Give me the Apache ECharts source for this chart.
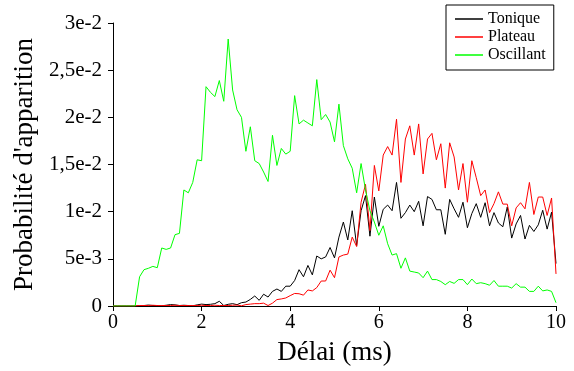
<!DOCTYPE html>
<html><head><meta charset="utf-8">
<script src="https://cdn.jsdelivr.net/npm/echarts@6/dist/echarts.min.js"></script>
<style>html,body{margin:0;padding:0;background:#fff}#c{width:574px;height:371px}</style>
</head><body><div id="c"></div>
<script>
// Délai (ms)
const delays = [
  0,0.1,0.2,0.3,0.4,0.5,0.6,0.7,0.8,0.9,
  1,1.1,1.2,1.3,1.4,1.5,1.6,1.7,1.8,1.9,
  2,2.1,2.2,2.3,2.4,2.5,2.6,2.7,2.8,2.9,
  3,3.1,3.2,3.3,3.4,3.5,3.6,3.7,3.8,3.9,
  4,4.1,4.2,4.3,4.4,4.5,4.6,4.7,4.8,4.9,
  5,5.1,5.2,5.3,5.4,5.5,5.6,5.7,5.8,5.9,
  6,6.1,6.2,6.3,6.4,6.5,6.6,6.7,6.8,6.9,
  7,7.1,7.2,7.3,7.4,7.5,7.6,7.7,7.8,7.9,
  8,8.1,8.2,8.3,8.4,8.5,8.6,8.7,8.8,8.9,
  9,9.1,9.2,9.3,9.4,9.5,9.6,9.7,9.8,9.9,
  10
];
// values in units of 1e-3
const UNIT = 1e-3;
const tonique = [
  0,0,0,0,0,0,0.02,0.05,0.1,0.05,
  0.05,0.02,0.08,0.15,0.12,0.05,0.08,0.05,0.02,0.12,
  0.2,0.15,0.18,0.25,0.5,0.05,0.18,0.25,0.14,0.35,
  0.42,0.7,1.06,0.6,1.25,0.95,1.55,1.8,1.55,2.1,
  2.1,2.7,3.85,3.1,4.3,3.3,5.3,5.0,5.2,6.2,
  5.1,7.3,8.9,7.0,10.1,6.4,10.1,11.7,7.4,11.55,
  8.45,10.25,10.7,10.1,13.1,9.3,9.9,10.7,10.0,11.1,
  8.5,11.6,11.3,10.2,10.2,7.6,11.3,10.3,9.4,11.0,
  8.3,9.8,10.85,9.4,10.95,8.5,9.9,8.8,8.4,10.5,
  7.2,8.7,9.6,7.1,8.55,7.9,8.6,10.15,8.15,9.95,
  4.5
];
const plateau = [
  0,0,0,0,0,0,0.05,0.05,0.05,0.08,
  0.05,0.05,0.05,0.05,0.08,0.05,0.05,0.05,0.05,0.05,
  0.08,0.05,0.05,0.08,0.05,0.05,0.05,0.08,0.1,0.02,
  0.15,0.2,0.25,0.25,0.3,0.05,0.3,0.68,0.75,0.85,
  1.1,1.33,1.3,1.15,1.7,1.6,1.95,2.65,2.65,3.8,
  3.0,5.2,5.4,5.5,7.3,6.3,11.0,12.9,8.0,14.9,
  12.2,16.0,16.9,16.0,19.8,13.1,17.7,19.1,16.0,19.3,
  14.0,17.7,18.3,15.5,17.2,12.5,17.3,15.8,12.3,15.1,
  11.0,15.4,13.6,11.7,12.3,9.9,10.85,12.1,10.8,10.8,
  8.5,10.4,10.95,10.3,13.1,9.7,11.55,11.55,9.6,11.45,
  3.4
];
const oscillant = [
  0,0,0,0,0,0,3.1,3.85,4.0,4.2,
  4.06,6.15,6.0,6.15,7.56,7.7,12.3,12.0,13.1,15.5,
  15.4,23.25,22.65,22.2,23.9,21.7,28.3,22.9,20.8,20.0,
  16.4,19.0,15.4,15.1,14.2,13.2,18.1,14.9,16.7,16.1,
  16.4,22.3,19.3,19.7,19.4,19.1,24.0,19.75,20.3,19.5,
  17.4,21.4,17.0,15.6,14.6,12.0,15.1,12.3,10.1,8.9,
  7.5,8.5,6.6,5.4,5.55,4.0,5.1,3.7,3.6,3.5,
  3.0,3.7,2.8,2.8,2.6,2.26,2.6,2.4,2.8,2.8,
  2.26,2.86,2.37,2.47,2.37,2.2,2.7,2.1,2.1,2.1,
  1.9,2.37,2.0,2.0,1.55,1.55,2.1,1.6,1.7,1.55,
  0.35
];
const seriesNames = ['Tonique', 'Plateau', 'Oscillant'];
const yTickLabels = ['0', '5e-3', '1e-2', '1,5e-2', '2e-2', '2,5e-2', '3e-2'];
const xTickLabels = ['0', '2', '4', '6', '8', '10'];

const FONT = "'Liberation Serif', 'Times New Roman', serif";
const pairs = arr => arr.map((v, i) => [delays[i], v * UNIT]);

const chart = echarts.init(document.getElementById('c'), null, {renderer: 'canvas'});
chart.setOption({
  animation: false,
  backgroundColor: '#fff',
  grid: {left: 113, right: 18, top: 23, bottom: 65},
  legend: {
    orient: 'vertical', left: 446, top: 5,
    data: seriesNames,
    icon: 'rect', itemWidth: 28, itemHeight: 1.5, itemGap: 2,
    textStyle: {fontFamily: FONT, fontSize: 16, color: '#000', lineHeight: 16},
    borderColor: '#000', borderWidth: 1, borderRadius: 0,
    padding: [6, 8, 7, 9], backgroundColor: '#fff'
  },
  xAxis: {
    type: 'value', min: 0, max: 10, interval: 2,
    name: 'Délai (ms)', nameLocation: 'middle', nameGap: 33,
    nameTextStyle: {fontFamily: FONT, fontSize: 27, color: '#000'},
    axisLine: {lineStyle: {color: '#000', width: 1}},
    axisTick: {show: true, length: 5, lineStyle: {color: '#000'}},
    axisLabel: {fontFamily: FONT, fontSize: 20, color: '#000', margin: 7,
      formatter: v => xTickLabels[Math.round(v / 2)]},
    splitLine: {show: false}
  },
  yAxis: {
    type: 'value', min: 0, max: 0.03, interval: 0.005,
    name: "Probabilité d'apparition", nameLocation: 'middle', nameGap: 70,
    nameTextStyle: {fontFamily: FONT, fontSize: 27, color: '#000'},
    axisLine: {show: true, lineStyle: {color: '#000', width: 1}},
    axisTick: {show: true, length: 5, lineStyle: {color: '#000'}},
    axisLabel: {fontFamily: FONT, fontSize: 21, color: '#000', margin: 11,
      formatter: v => yTickLabels[Math.round(v / 0.005)]},
    splitLine: {show: false}
  },
  series: [
    {name: 'Tonique', type: 'line', data: pairs(tonique), showSymbol: false, symbol: 'none',
     lineStyle: {color: '#000', width: 1}, itemStyle: {color: '#000'}},
    {name: 'Plateau', type: 'line', data: pairs(plateau), showSymbol: false, symbol: 'none',
     lineStyle: {color: '#ff0000', width: 1}, itemStyle: {color: '#ff0000'}},
    {name: 'Oscillant', type: 'line', data: pairs(oscillant), showSymbol: false, symbol: 'none',
     lineStyle: {color: '#00ff00', width: 1}, itemStyle: {color: '#00ff00'}}
  ]
});
</script></body></html>
